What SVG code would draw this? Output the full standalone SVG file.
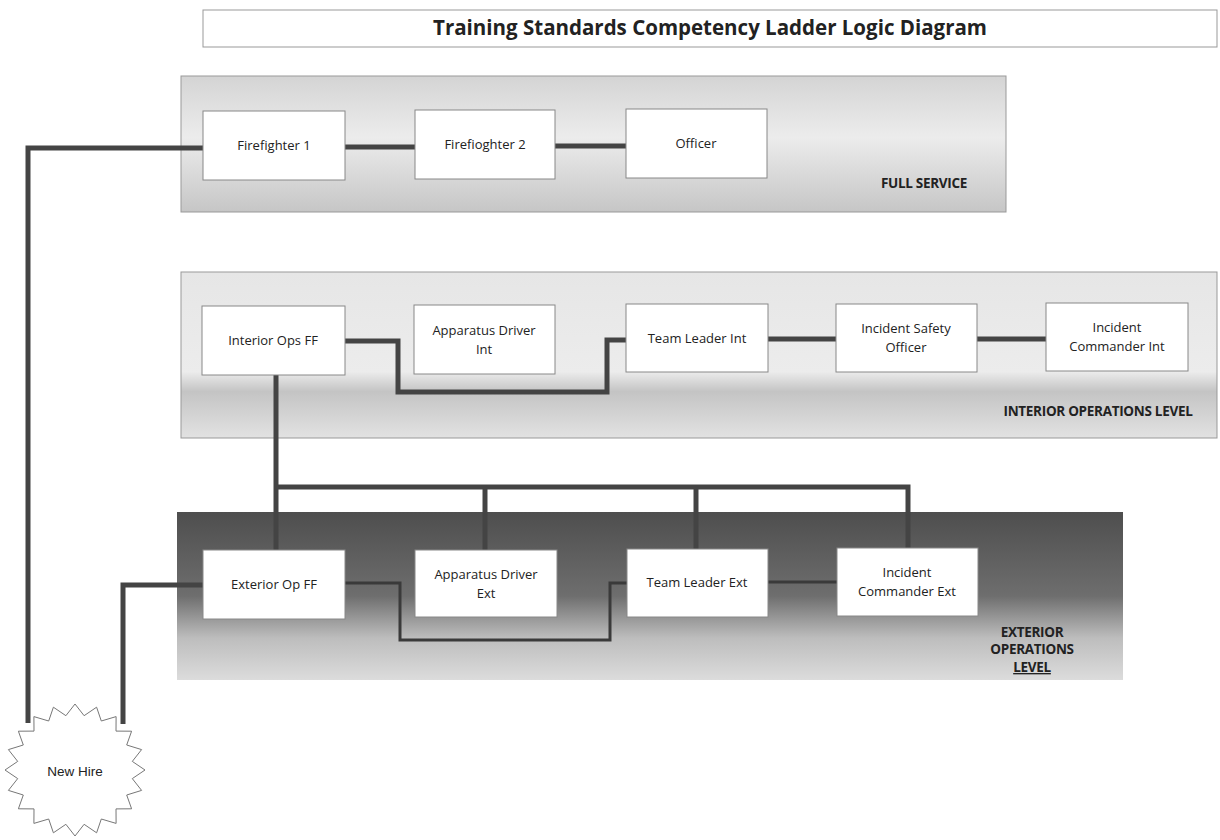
<svg xmlns="http://www.w3.org/2000/svg" width="1220" height="840" viewBox="0 0 1220 840">
<style>
.box{fill:#fff;stroke:#888;stroke-width:1}
.lbl{font-family:"Open Sans","Liberation Sans",sans-serif;font-size:13px;fill:#222;text-anchor:middle}
.band{font-family:"Open Sans","Liberation Sans",sans-serif;font-size:13.5px;font-weight:bold;fill:#222;text-anchor:middle;letter-spacing:-0.3px}
.thick{fill:none;stroke:#444;stroke-width:5;stroke-linejoin:miter}
.thin{fill:none;stroke:#3a3a3a;stroke-width:3}
</style>
<defs>
<linearGradient id="gFull" x1="0" y1="0" x2="0" y2="1">
<stop offset="0" stop-color="#d4d4d4"/><stop offset="0.45" stop-color="#ececec"/><stop offset="1" stop-color="#c6c6c6"/>
</linearGradient>
<linearGradient id="gInt" x1="0" y1="0" x2="0" y2="1">
<stop offset="0" stop-color="#e6e6e6"/><stop offset="0.6" stop-color="#ececec"/><stop offset="0.72" stop-color="#c4c4c4"/><stop offset="1" stop-color="#e2e2e2"/>
</linearGradient>
<linearGradient id="gExt" x1="0" y1="0" x2="0" y2="1">
<stop offset="0" stop-color="#4e4e4e"/><stop offset="0.5" stop-color="#6e6e6e"/><stop offset="0.75" stop-color="#bdbdbd"/><stop offset="1" stop-color="#dcdcdc"/>
</linearGradient>
</defs>
<rect width="1220" height="840" fill="#fff"/>

<g id="title">
<rect x="203" y="10" width="1014" height="37" fill="#fff" stroke="#999" stroke-width="1"/>
<text x="710" y="35" font-family="'Open Sans','Liberation Sans',sans-serif" font-size="20.5" font-weight="bold" fill="#222" text-anchor="middle">Training Standards Competency Ladder Logic Diagram</text>
</g>

<g id="band-full">
<rect x="181" y="76" width="825" height="136" fill="url(#gFull)" stroke="#999"/>
<text class="band" x="924" y="188">FULL SERVICE</text>
</g>
<g id="band-interior">
<rect x="181" y="272" width="1036" height="166" fill="url(#gInt)" stroke="#999"/>
<text class="band" x="1098" y="416">INTERIOR OPERATIONS LEVEL</text>
</g>
<g id="band-exterior">
<rect x="177" y="512" width="946" height="168" fill="url(#gExt)"/>
<text class="band" x="1032" y="637">EXTERIOR</text>
<text class="band" x="1032" y="654">OPERATIONS</text>
<text class="band" x="1032" y="672" text-decoration="underline">LEVEL</text>
</g>

<g id="connectors">
<path class="thick" d="M28,723 V148 H203"/>
<path class="thick" d="M123,724 V585 H203"/>
<path class="thick" d="M345,147 H415"/>
<path class="thick" d="M555,146 H626"/>
<path class="thick" d="M345,341 H398 V392 H607 V340 H626"/>
<path class="thick" d="M768,339 H836"/>
<path class="thick" d="M977,339 H1046"/>
<path class="thick" d="M276,375 V550"/>
<path class="thick" d="M276,487 H908 V548"/>
<path class="thick" d="M485,487 V550"/>
<path class="thick" d="M696,487 V549"/>
<path class="thin" d="M345,583 H400 V640 H610 V583 H627"/>
<path class="thin" d="M768,582 H837"/>
</g>

<g id="n-ff1"><rect class="box" x="203" y="111" width="142" height="69"/><text class="lbl" x="274" y="150">Firefighter 1</text></g>
<g id="n-ff2"><rect class="box" x="415" y="110" width="140" height="69"/><text class="lbl" x="485" y="149">Firefioghter 2</text></g>
<g id="n-officer"><rect class="box" x="626" y="109" width="141" height="69"/><text class="lbl" x="696" y="148">Officer</text></g>

<g id="n-intff"><rect class="box" x="202" y="306" width="143" height="69"/><text class="lbl" x="273" y="345">Interior Ops FF</text></g>
<g id="n-adint"><rect class="box" x="414" y="305" width="141" height="69"/><text class="lbl" x="484" y="335">Apparatus Driver</text><text class="lbl" x="484" y="354">Int</text></g>
<g id="n-tlint"><rect class="box" x="626" y="304" width="142" height="68"/><text class="lbl" x="697" y="343">Team Leader Int</text></g>
<g id="n-iso"><rect class="box" x="836" y="304" width="141" height="68"/><text class="lbl" x="906" y="333">Incident Safety</text><text class="lbl" x="906" y="352">Officer</text></g>
<g id="n-icint"><rect class="box" x="1046" y="303" width="142" height="68"/><text class="lbl" x="1117" y="332">Incident</text><text class="lbl" x="1117" y="351">Commander Int</text></g>

<g id="n-extff"><rect class="box" x="203" y="550" width="142" height="69"/><text class="lbl" x="274" y="589">Exterior Op FF</text></g>
<g id="n-adext"><rect class="box" x="415" y="550" width="142" height="67"/><text class="lbl" x="486" y="579">Apparatus Driver</text><text class="lbl" x="486" y="598">Ext</text></g>
<g id="n-tlext"><rect class="box" x="627" y="549" width="141" height="68"/><text class="lbl" x="697" y="587">Team Leader Ext</text></g>
<g id="n-icext"><rect class="box" x="837" y="548" width="141" height="68"/><text class="lbl" x="907" y="577">Incident</text><text class="lbl" x="907" y="596">Commander Ext</text></g>

<g id="n-newhire">
<polygon fill="#fff" stroke="#777" stroke-width="1" points="145,770 132.3,778.6 141.6,790.4 126.7,795 131.6,808.8 116,808.9 116.1,823.4 101.3,819 96.6,832.8 84.1,824.3 75,836 65.9,824.3 53.4,832.8 48.7,819 33.9,823.4 34,808.9 18.4,808.8 23.3,795 8.4,790.4 17.7,778.6 5,770 17.7,761.4 8.4,749.6 23.3,745 18.4,731.2 34,731.1 33.9,716.6 48.7,721 53.4,707.2 65.9,715.7 75,704 84.1,715.7 96.6,707.2 101.3,721 116.1,716.6 116,731.1 131.6,731.2 126.7,745 141.6,749.6 132.3,761.4"/>
<text x="75" y="776" font-family="'Liberation Sans',Arial,sans-serif" font-size="13.5" fill="#222" text-anchor="middle">New Hire</text>
</g>
</svg>
